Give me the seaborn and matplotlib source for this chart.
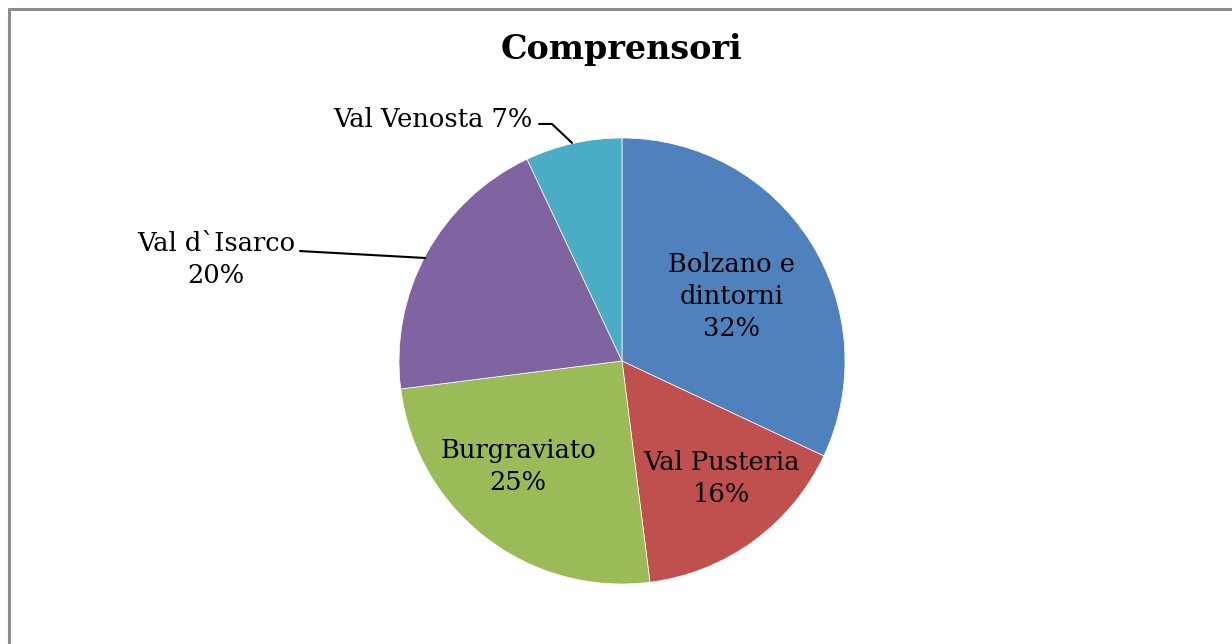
import matplotlib
matplotlib.use("Agg")
import matplotlib.pyplot as plt
import seaborn as sns
from matplotlib.lines import Line2D

# dati
categories = ["Bolzano e\ndintorni", "Val Pusteria", "Burgraviato", "Val d`Isarco", "Val Venosta"]
values = [32, 16, 25, 20, 7]
colors = ["#4F81BD", "#C0504D", "#9BBB59", "#8064A2", "#4BACC6"]

sns.set_theme(style="white")
plt.rcParams['font.family'] = ['DejaVu Serif']
plt.rcParams['text.color'] = 'black'

W, H = 1232, 644
fig = plt.figure(figsize=(W / 100, H / 100), dpi=100)

# pie center (622, 361), radius 223 px
cx, cy, r = 622, 361, 223
ax = fig.add_axes([(cx - r) / W, (H - cy - r) / H, 2 * r / W, 2 * r / H])
wedges, _ = ax.pie(values, colors=sns.color_palette(colors), startangle=90,
                   counterclock=False, radius=1,
                   wedgeprops=dict(edgecolor="white", linewidth=0.5))
ax.set_xlim(-1, 1)
ax.set_ylim(-1, 1)
ax.set_aspect("equal")
ax.axis("off")

fs = 18.5
ls = 1.35
labels = [f"{c}\n{v}%" for c, v in zip(categories, values)]
# etichette interne
ax.text(0.493, 0.287, labels[0], ha="center", va="center", fontsize=fs, linespacing=ls)
ax.text(0.444, -0.529, labels[1], ha="center", va="center", fontsize=fs, linespacing=ls)
ax.text(-0.466, -0.475, labels[2], ha="center", va="center", fontsize=fs, linespacing=ls)
# etichette esterne con linee
ax.text(-1.821, 0.453, labels[3], ha="center", va="center", fontsize=fs,
        linespacing=ls, clip_on=False)
ax.add_line(Line2D([-1.444, -0.883], [0.493, 0.462], color="black", lw=1.5, clip_on=False))
ax.text(-0.848, 1.081, f"{categories[4]} {values[4]}%", ha="center", va="center",
        fontsize=fs, clip_on=False)
ax.add_line(Line2D([-0.372, -0.314, -0.224], [1.063, 1.063, 0.978], color="black",
                   lw=1.5, clip_on=False))

fig.text(622 / W, 1 - 49 / H, "Comprensori", ha="center", va="center",
         fontsize=24, fontweight="bold")

# cornice
fig.add_artist(Line2D([8.5 / W, 8.5 / W], [0, 1 - 8.5 / H], color="#8c8c8c", lw=2.2,
                      transform=fig.transFigure))
fig.add_artist(Line2D([8.5 / W, 1], [1 - 8.5 / H, 1 - 8.5 / H], color="#8c8c8c", lw=2.2,
                      transform=fig.transFigure))

fig.savefig("out.png", dpi=100, facecolor="white")
